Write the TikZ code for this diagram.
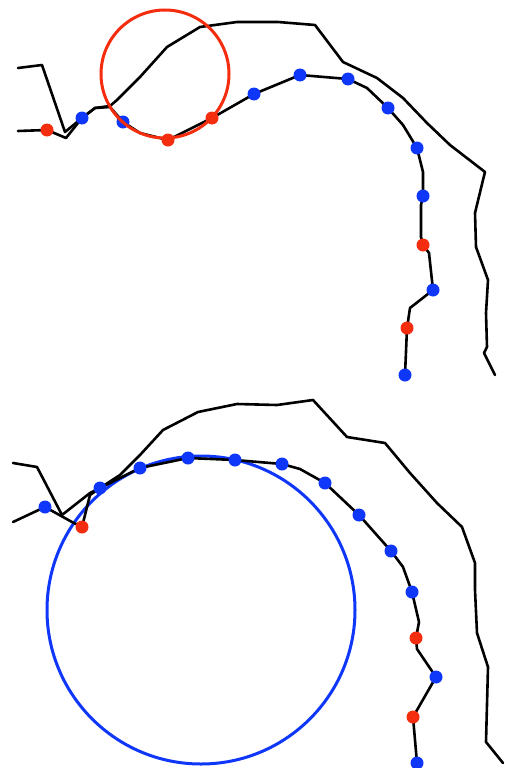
\documentclass[tikz,border=0pt]{standalone}
\definecolor{ptred}{RGB}{245,45,15}
\definecolor{ptblue}{RGB}{15,55,250}
\tikzset{
  curve/.style={black, line width=2.6pt, line join=round, line cap=round},
  reddot/.style={circle, fill=ptred, inner sep=0pt, minimum size=13pt},
  bluedot/.style={circle, fill=ptblue, inner sep=0pt, minimum size=13pt},
  fitcircle/.style={line width=3pt},
}
\begin{document}
\begin{tikzpicture}[x=1pt, y=-1pt]
\useasboundingbox (0,0) rectangle (505,768);

% ---------- upper panel ----------
% outer boundary
\draw[curve] (18,68) -- (42,65) -- (65,132) -- (82,118) -- (95,108) -- (110,106)
  -- (117,100) -- (140,77) -- (167,47) -- (200,27) -- (237,22) -- (278,22)
  -- (315,25) -- (343,62) -- (377,78) -- (403,98) -- (427,123) -- (450,145)
  -- (485,172) -- (483,180) -- (475,213) -- (476,247) -- (488,280) -- (486,313)
  -- (487,347) -- (484,353) -- (495,375);

% sampled points
\coordinate (a1)  at (47,130);
\coordinate (a2)  at (82,118);
\coordinate (a3)  at (123,122);
\coordinate (a4)  at (168,140);
\coordinate (a5)  at (212,118);
\coordinate (a6)  at (254,94);
\coordinate (a7)  at (300,75);
\coordinate (a8)  at (348,79);
\coordinate (a9)  at (388,108);
\coordinate (a10) at (417,148);
\coordinate (a11) at (423,196);
\coordinate (a12) at (423,245);
\coordinate (a13) at (433,290);
\coordinate (a14) at (407,328);
\coordinate (a15) at (405,375);

\draw[curve] (18,131) -- (a1) -- (66,138) -- (a2) -- (95,108)
  -- (110,107) -- (a3) -- (140,133) -- (a4) -- (a5)
  -- (a6) -- (a7) -- (a8) -- (367,88) -- (a9)
  -- (403,125) -- (a10) -- (423,172) -- (a11) -- (421,205)
  -- (421,237) -- (a12) -- (429,253) -- (a13) -- (410,308)
  -- (a14) -- (a15);
\foreach \n in {a1,a4,a5,a12,a14} \node[reddot] (p\n) at (\n) {};
\foreach \n in {a2,a3,a6,a7,a8,a9,a10,a11,a13,a15} \node[bluedot] (p\n) at (\n) {};

\node[draw=ptred, fitcircle, circle, inner sep=0pt, minimum size=128pt] (rc) at (165,74) {};

% ---------- lower panel ----------
\draw[curve] (13,463) -- (37,467) -- (62,515) -- (90,493) -- (100,488)
  -- (120,475) -- (140,455) -- (163,430) -- (198,412) -- (237,404) -- (277,405)
  -- (313,400) -- (347,437) -- (385,443) -- (410,473) -- (437,503) -- (462,527)
  -- (475,563) -- (475,590) -- (477,633) -- (488,667) -- (486,742) -- (503,763);

\node[draw=ptblue, fitcircle, circle, inner sep=0pt, minimum size=308pt] (bc) at (201,610) {};

\coordinate (b0)  at (13,522);
\coordinate (b1)  at (45,507);
\coordinate (b2)  at (82,527);
\coordinate (b3)  at (100,488);
\coordinate (b4)  at (140,468);
\coordinate (b5)  at (188,458);
\coordinate (b6)  at (235,460);
\coordinate (b7)  at (282,464);
\coordinate (b8)  at (325,483);
\coordinate (b9)  at (359,515);
\coordinate (b10) at (391,551);
\coordinate (b11) at (412,592);
\coordinate (b12) at (416,638);
\coordinate (b13) at (436,677);
\coordinate (b14) at (413,717);
\coordinate (b15) at (417,763);

\draw[curve] (b0) -- (b1) -- (72,522) -- (b2) -- (90,495)
  -- (b3) -- (b4) -- (b5) -- (b6) -- (b7)
  -- (300,469) -- (b8) -- (b9) -- (b10) -- (403,567)
  -- (b11) -- (419,622) -- (b12) -- (417,649) -- (b13)
  -- (b14) -- (b15);
\foreach \n in {b2,b12,b14} \node[reddot] (p\n) at (\n) {};
\foreach \n in {b1,b3,b4,b5,b6,b7,b8,b9,b10,b11,b13,b15} \node[bluedot] (p\n) at (\n) {};
\end{tikzpicture}
\end{document}
